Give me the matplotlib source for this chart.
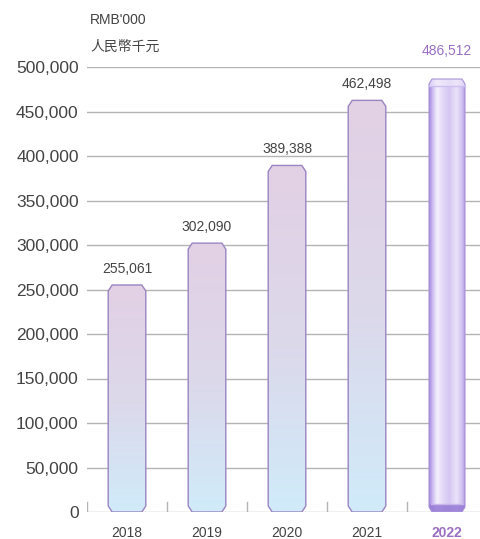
import numpy as np
import matplotlib
matplotlib.use("Agg")
import matplotlib.pyplot as plt
from matplotlib.patches import Polygon, Rectangle
from matplotlib.colors import LinearSegmentedColormap

plt.rcParams['font.family'] = ['Liberation Sans', 'Noto Sans CJK TC', 'DejaVu Sans']

years = ["2018", "2019", "2020", "2021", "2022"]
values = [255061, 302090, 389388, 462498, 486512]
value_labels = ["255,061", "302,090", "389,388", "462,498", "486,512"]
yticks = [0, 50000, 100000, 150000, 200000, 250000, 300000, 350000, 400000, 450000, 500000]
ytick_labels = ["0", "50,000", "100,000", "150,000", "200,000", "250,000",
                "300,000", "350,000", "400,000", "450,000", "500,000"]

W, H = 481, 539
fig = plt.figure(figsize=(W / 100, H / 100), dpi=100)
ax = fig.add_axes([87 / W, (H - 512) / H, (481 - 87) / W, 445 / H])
ax.set_xlim(-0.5, 4.425)
ax.set_ylim(0, 500000)

text_col = "#444444"
grid_col = "#b4b4b4"
edge_col = "#9a84c2"
hl_col = "#9b6fc2"

for s in ax.spines.values():
    s.set_visible(False)
for yv in yticks:
    ax.axhline(yv, color=grid_col, lw=1.0, zorder=0)

ax.set_yticks(yticks)
ax.set_yticklabels(ytick_labels, fontsize=12.5, color=text_col)
ax.tick_params(axis='y', length=0, pad=6)
ax.set_xticks(range(len(years)))
ax.set_xticklabels(years, fontsize=10, color=text_col)
ax.tick_params(axis='x', length=0, pad=10)
for lbl in ax.get_xticklabels()[-1:]:
    lbl.set_color(hl_col)
    lbl.set_fontweight('bold')
for b in np.arange(-0.5, 4.0, 1.0):
    ax.plot([b, b], [0, 11000], color=grid_col, lw=1.0, zorder=0)

# pixel-size helpers (data units per pixel)
px_x = 1 / 80.0
px_y = 500000 / 445.0

bar_cmap = LinearSegmentedColormap.from_list("bar", ["#d0ebfa", "#dcd8ea", "#e3d0e5"])
half = 0.235
cdx, cdy = 4 * px_x, 6 * px_y


def chamfered(x0, x1, top, dx, dy):
    return [(x0 + dx, 0), (x1 - dx, 0), (x1, dy), (x1, top - dy),
            (x1 - dx, top), (x0 + dx, top), (x0, top - dy), (x0, dy)]


for i, v in enumerate(values[:-1]):
    x0, x1 = i - half, i + half
    poly = Polygon(chamfered(x0, x1, v, cdx, cdy), closed=True, facecolor='none',
                   edgecolor=edge_col, lw=1.0, zorder=3)
    ax.add_patch(poly)
    grad = np.linspace(0, 1, 256).reshape(-1, 1)
    im = ax.imshow(grad, cmap=bar_cmap, origin='lower', aspect='auto',
                   extent=[x0, x1, 0, v], zorder=2, interpolation='bilinear')
    im.set_clip_path(poly)
    ax.text(i, v + 9 * px_y, value_labels[i], ha='center', va='bottom',
            fontsize=10, color=text_col)

# highlighted can-shaped bar for the latest year
i, v = 4, values[4]
x0, x1 = i - half + 0.01, i + half - 0.01
cyl_cmap = LinearSegmentedColormap.from_list(
    "cyl", [(0.0, "#a084d9"), (0.08, "#c6b4ef"), (0.22, "#f4f0fc"), (0.35, "#e6dcf8"),
            (0.55, "#d5c6f2"), (0.75, "#ebe3fa"), (0.9, "#cfbff0"), (1.0, "#a68ed9")])
can = Polygon(chamfered(x0, x1, v, 3 * px_x, 5 * px_y), closed=True,
              facecolor='none', edgecolor="#a993dc", lw=0.8, zorder=4)
ax.add_patch(can)
gradx = np.linspace(0, 1, 256).reshape(1, -1)
im = ax.imshow(gradx, cmap=cyl_cmap, aspect='auto', extent=[x0, x1, 0, v],
               zorder=2, interpolation='bilinear')
im.set_clip_path(can)
# darker base rim
base = Rectangle((x0, 0), x1 - x0, 8 * px_y, facecolor="#9478d4", edgecolor='none',
                 alpha=0.85, zorder=3)
ax.add_patch(base)
base.set_clip_path(can)
ax.plot([x0 + 0.02, x1 - 0.02], [8 * px_y] * 2, color="#c7b6ee", lw=1.0, zorder=4)
# lighter lid with a seam line
lid = Rectangle((x0, v - 7 * px_y), x1 - x0, 7 * px_y, facecolor="#eee8fb",
                edgecolor='none', alpha=0.7, zorder=3)
ax.add_patch(lid)
lid.set_clip_path(can)
ax.plot([x0, x1], [v - 7 * px_y] * 2, color="#cdbff0", lw=1.0, zorder=4)
ax.text(i, v + 21 * px_y, value_labels[i], ha='center', va='bottom',
        fontsize=10, color=hl_col, clip_on=False)

fig.text(90 / W, 1 - 20 / H, "RMB'000", ha='left', va='center', fontsize=10, color=text_col)
fig.text(90 / W, 1 - 47 / H, "人民幣千元", ha='left', va='center', fontsize=10, color=text_col)

fig.savefig("out.png", dpi=100)
